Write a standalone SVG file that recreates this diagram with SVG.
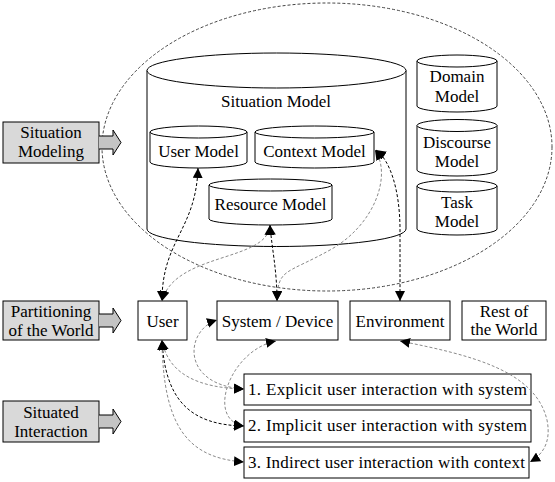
<svg xmlns="http://www.w3.org/2000/svg" width="555" height="482" viewBox="0 0 555 482">
<style>
  text { font-size: 17px; fill: #000; }
  .mid { text-anchor: middle; }
  .box { fill: #fff; stroke: #000; stroke-width: 1; }
  .label { fill: #d9d9d9; stroke: #000; stroke-width: 1; }
  .blk { fill: #c4c4c4; stroke: #000; stroke-width: 1; }
  .cyl { fill: #fff; stroke: #000; stroke-width: 1; }
  .scope { fill: none; stroke: #444; stroke-width: 1; stroke-dasharray: 3 2; }
  .cb { fill: none; stroke: #000; stroke-width: 1; stroke-dasharray: 3 2; marker-start: url(#ah); marker-end: url(#ah); }
  .cg { fill: none; stroke: #8a8a8a; stroke-width: 1; stroke-dasharray: 3 2; marker-start: url(#ah); marker-end: url(#ah); }
</style>
<defs>
  <marker id="ah" viewBox="0 0 10 10" refX="10" refY="5" markerWidth="10" markerHeight="10" markerUnits="userSpaceOnUse" orient="auto-start-reverse">
    <path d="M0,0 L10,5 L0,10 Z" fill="#000"/>
  </marker>
</defs>
<rect width="555" height="482" fill="#fff"/>

<ellipse id="scope" class="scope" cx="327" cy="147" rx="225" ry="144"/>

<g id="situation-modeling-label">
  <rect class="label" x="3" y="122" width="96" height="41"/>
  <path class="blk" d="M99,136 L113,136 L113,130 L121,142.5 L113,155 L113,149 L99,149"/>
  <text class="mid" x="51" y="138" font-family="Liberation Serif">Situation</text>
  <text class="mid" x="51" y="157" font-family="Liberation Serif">Modeling</text>
</g>
<g id="partitioning-label">
  <rect class="label" x="3" y="301" width="96" height="39"/>
  <path class="blk" d="M99,314 L113,314 L113,308 L121,320.5 L113,333 L113,327 L99,327"/>
  <text class="mid" x="51" y="317" font-family="Liberation Serif">Partitioning</text>
  <text class="mid" x="51" y="336" font-family="Liberation Serif">of the World</text>
</g>
<g id="situated-interaction-label">
  <rect class="label" x="3" y="401" width="96" height="41"/>
  <path class="blk" d="M99,415 L113,415 L113,409 L121,421.5 L113,434 L113,428 L99,428"/>
  <text class="mid" x="51" y="418" font-family="Liberation Serif">Situated</text>
  <text class="mid" x="51" y="437" font-family="Liberation Serif">Interaction</text>
</g>

<g id="situation-model">
  <path class="cyl" d="M147,70.5 L147,229 A129.5,17.5 0 0 0 406,229 L406,70.5 A129.5,17.5 0 0 0 147,70.5 Z"/>
  <path class="cyl" d="M147,70.5 A129.5,17.5 0 0 0 406,70.5" fill="none"/>
  <text class="mid" x="276" y="107" font-family="Liberation Serif">Situation Model</text>
</g>
<g id="user-model">
  <path class="cyl" d="M150,132 L150,162 A48.5,6 0 0 0 247,162 L247,132 A48.5,6 0 0 0 150,132 Z"/>
  <path class="cyl" d="M150,132 A48.5,6 0 0 0 247,132" fill="none"/>
  <text class="mid" x="198.5" y="157" font-family="Liberation Serif">User Model</text>
</g>
<g id="context-model">
  <path class="cyl" d="M255,132 L255,162 A59.5,6 0 0 0 374,162 L374,132 A59.5,6 0 0 0 255,132 Z"/>
  <path class="cyl" d="M255,132 A59.5,6 0 0 0 374,132" fill="none"/>
  <text class="mid" x="314.5" y="157" font-family="Liberation Serif">Context Model</text>
</g>
<g id="resource-model">
  <path class="cyl" d="M209,185 L209,219 A61.5,6 0 0 0 332,219 L332,185 A61.5,6 0 0 0 209,185 Z"/>
  <path class="cyl" d="M209,185 A61.5,6 0 0 0 332,185" fill="none"/>
  <text class="mid" x="270.5" y="210" font-family="Liberation Serif">Resource Model</text>
</g>
<g id="domain-model">
  <path class="cyl" d="M417,61 L417,106 A40,6 0 0 0 497,106 L497,61 A40,6 0 0 0 417,61 Z"/>
  <path class="cyl" d="M417,61 A40,6 0 0 0 497,61" fill="none"/>
  <text class="mid" x="457" y="82" font-family="Liberation Serif">Domain</text>
  <text class="mid" x="457" y="102" font-family="Liberation Serif">Model</text>
</g>
<g id="discourse-model">
  <path class="cyl" d="M417,125.5 L417,170 A40,6 0 0 0 497,170 L497,125.5 A40,6 0 0 0 417,125.5 Z"/>
  <path class="cyl" d="M417,125.5 A40,6 0 0 0 497,125.5" fill="none"/>
  <text class="mid" x="457" y="148" font-family="Liberation Serif">Discourse</text>
  <text class="mid" x="457" y="167" font-family="Liberation Serif">Model</text>
</g>
<g id="task-model">
  <path class="cyl" d="M417,186 L417,229 A40,6 0 0 0 497,229 L497,186 A40,6 0 0 0 417,186 Z"/>
  <path class="cyl" d="M417,186 A40,6 0 0 0 497,186" fill="none"/>
  <text class="mid" x="457" y="208" font-family="Liberation Serif">Task</text>
  <text class="mid" x="457" y="227" font-family="Liberation Serif">Model</text>
</g>

<g id="user">
  <rect class="box" x="138" y="301" width="49" height="39"/>
  <text class="mid" x="162.5" y="327" font-family="Liberation Serif">User</text>
</g>
<g id="system-device">
  <rect class="box" x="217" y="301" width="121" height="39"/>
  <text class="mid" x="277.5" y="327" font-family="Liberation Serif">System / Device</text>
</g>
<g id="environment">
  <rect class="box" x="350" y="301" width="100" height="39"/>
  <text class="mid" x="400" y="327" font-family="Liberation Serif">Environment</text>
</g>
<g id="rest-of-world">
  <rect class="box" x="462" y="301" width="84" height="39"/>
  <text class="mid" x="504" y="317" font-family="Liberation Serif">Rest of</text>
  <text class="mid" x="504" y="335" font-family="Liberation Serif">the World</text>
</g>

<g id="explicit-interaction">
  <rect class="box" x="244" y="374" width="287" height="31"/>
  <text x="248" y="395" font-family="Liberation Serif" textLength="279" lengthAdjust="spacing">1. Explicit user interaction with system</text>
</g>
<g id="implicit-interaction">
  <rect class="box" x="244" y="410" width="287" height="32"/>
  <text x="248" y="431" font-family="Liberation Serif" textLength="279" lengthAdjust="spacing">2. Implicit user interaction with system</text>
</g>
<g id="indirect-interaction">
  <rect class="box" x="244" y="447" width="285" height="31"/>
  <text x="248" y="468" font-family="Liberation Serif" textLength="277" lengthAdjust="spacing">3. Indirect user interaction with context</text>
</g>

<g id="connectors">
  <path class="cb" d="M198,168 C196,230 162,240 162,301"/>
  <path class="cg" d="M270,225 C268,262 175,252 162,301"/>
  <path class="cb" d="M270,225 C272,250 277,270 277,301"/>
  <path class="cg" d="M375,150 C392,175 375,225 330,250 S278,268 277,301"/>
  <path class="cb" d="M376,150 C390,160 400,190 400,230 L400,301"/>
  <path class="cg" d="M162,340 C168,375 200,388 244,389"/>
  <path class="cb" d="M162,340 C165,400 190,425 244,426"/>
  <path class="cg" d="M162,340 C163,430 190,458 244,462"/>
  <path class="cg" d="M217,320 C185,330 180,385 244,389"/>
  <path class="cg" d="M276,341 C230,350 205,420 244,426"/>
  <path class="cg" d="M400,341 C470,355 535,370 547,420 C552,445 540,456 530,462"/>
</g>
</svg>
